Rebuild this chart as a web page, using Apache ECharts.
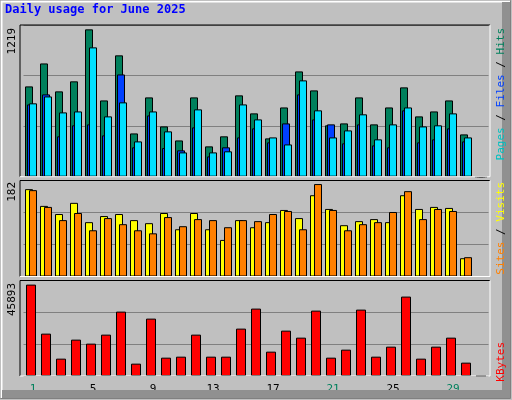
<!DOCTYPE html>
<html><head><meta charset="utf-8">
<script src="https://cdn.jsdelivr.net/npm/echarts@6/dist/echarts.min.js"></script>
<style>html,body{margin:0;padding:0;background:#c0c0c0}#c{width:512px;height:400px}</style>
</head><body><div id="c"></div>
<script>
const days = Array.from({length:31},(_,i)=>String(i+1));
const weekendDays = ['1','7','8','14','15','21','22','28','29'];
const hits  = [747,937,706,789,1219,631,1004,358,656,416,300,656,251,334,673,524,317,573,871,714,425,441,656,433,573,739,499,540,631,350,0];
const files = [598,681,334,425,433,342,846,243,507,237,218,408,168,243,325,400,284,441,681,474,433,276,433,259,243,549,284,309,400,292,0];
const pages = [607,664,532,540,1070,499,615,292,540,375,201,557,201,210,598,474,325,267,797,549,325,383,516,309,433,573,416,425,524,325,0];
const visits= [172,139,123,145,107,119,123,111,105,125,93,125,93,72,111,97,107,131,115,160,133,101,109,113,107,160,133,137,135,36,0];
const sites = [170,137,111,125,91,115,103,91,85,117,99,113,111,97,111,109,123,129,93,182,131,91,103,107,127,168,113,133,129,38,0];
const kbytes= [45893,21270,8710,18260,16250,20770,32330,6200,28810,9210,9710,20770,9710,9710,23790,33840,12230,22780,19260,32830,9210,13230,33330,9710,14740,39870,8710,14740,19260,6700,0];
const maxLabels = ['1219','182','45893'];

const chart = echarts.init(document.getElementById('c'));
const F = 'DejaVu Sans Mono, monospace';
const grids = [{top:25,height:151.7},{top:180.5,height:96},{top:280.5,height:95.5}];
const maxes = [1255,189,47950];
function bar(name,data,color,idx,w,gap){
  return {type:'bar',name,data,xAxisIndex:idx,yAxisIndex:idx,barWidth:w,barGap:gap,
    itemStyle:{color,borderColor:'#000',borderWidth:1},animation:false,silent:true};
}
function frame(top,h){
  return [
    {type:'polyline',shape:{points:[[20,top+h],[20,top],[490,top]]},style:{stroke:'#000',lineWidth:1,fill:null},z:10},
    {type:'polyline',shape:{points:[[490,top],[490,top+h],[20,top+h]]},style:{stroke:'#fff',lineWidth:1,fill:null},z:10}
  ];
}
function vtext(x,y,rich,text){
  return {type:'text',x,y,rotation:Math.PI/2,style:{text,rich,font:'11px '+F,align:'right',verticalAlign:'middle'},z:20};
}
chart.setOption({
  backgroundColor:'#c0c0c0',
  grid:grids.map(g=>({left:23.5,width:465,top:g.top,height:g.height,show:true,backgroundColor:'#c0c0c0',borderWidth:0})),
  xAxis:[0,1,2].map(i=>({type:'category',data:days,gridIndex:i,
    axisLine:{show:false},axisTick:{show:false},
    axisLabel:{show:i===2,margin:8,padding:[0,0,0,4],fontFamily:F,fontSize:11,
      formatter:v=>weekendDays.includes(v)?'{g|'+v+'}':'{k|'+v+'}',
      rich:{g:{color:'#00805c',fontFamily:F,fontSize:11},k:{color:'#000',fontFamily:F,fontSize:11}}}})),
  yAxis:[0,1,2].map(i=>({type:'value',gridIndex:i,min:0,max:maxes[i],interval:maxes[i]/3,
    axisLabel:{show:false},axisLine:{show:false},axisTick:{show:false},
    splitLine:{show:true,lineStyle:{color:'#808080',width:1}}})),
  series:[
    bar('Hits',hits,'#00805c',0,8,'-75%'),
    bar('Files',files,'#0040ff',0,8,'-75%'),
    bar('Pages',pages,'#00e0ff',0,8,'-75%'),
    bar('Visits',visits,'#ffff00',1,8,'-50%'),
    bar('Sites',sites,'#ff8000',1,8,'-50%'),
    bar('KBytes',kbytes,'#ff0000',2,10,'0%')
  ],
  graphic:[
    {type:'rect',shape:{x:0.5,y:0.5,width:510,height:398},style:{fill:null,stroke:'#808080',lineWidth:1},z:1},
    {type:'polyline',shape:{points:[[1.5,398],[1.5,1.5],[510,1.5]]},style:{stroke:'#fff',lineWidth:2,fill:null},z:2},
    {type:'polyline',shape:{points:[[506,2],[506,394],[2,394]]},style:{stroke:'#909090',lineWidth:8,fill:null},z:2},
    {type:'text',x:5,y:10,style:{text:'Daily usage for June 2025',font:'bold 12px '+F,fill:'#0000ff',verticalAlign:'middle'},z:20},
    ...frame(25,151.7),...frame(180.5,96),...frame(280.5,95.5),
    {type:'text',x:12,y:28,rotation:Math.PI/2,style:{text:'1219',font:'11px '+F,fill:'#000',align:'right',verticalAlign:'middle'},z:20},
    {type:'text',x:12,y:182,rotation:Math.PI/2,style:{text:'182',font:'11px '+F,fill:'#000',align:'right',verticalAlign:'middle'},z:20},
    {type:'text',x:12,y:283,rotation:Math.PI/2,style:{text:'45893',font:'11px '+F,fill:'#000',align:'right',verticalAlign:'middle'},z:20},
    vtext(501,28,{p:{fill:'#00c0c0',font:'11px '+F},s:{fill:'#000',font:'11px '+F},f:{fill:'#0040ff',font:'11px '+F},h:{fill:'#00805c',font:'11px '+F}},'{p|Pages}{s| / }{f|Files}{s| / }{h|Hits}'),
    vtext(501,182,{a:{fill:'#ff8000',font:'11px '+F},s:{fill:'#000',font:'11px '+F},v:{fill:'#ffff00',font:'11px '+F}},'{a|Sites}{s| / }{v|Visits}'),
    vtext(501,342,{k:{fill:'#ff0000',font:'11px '+F}},'{k|KBytes}')
  ]
});
</script></body></html>
